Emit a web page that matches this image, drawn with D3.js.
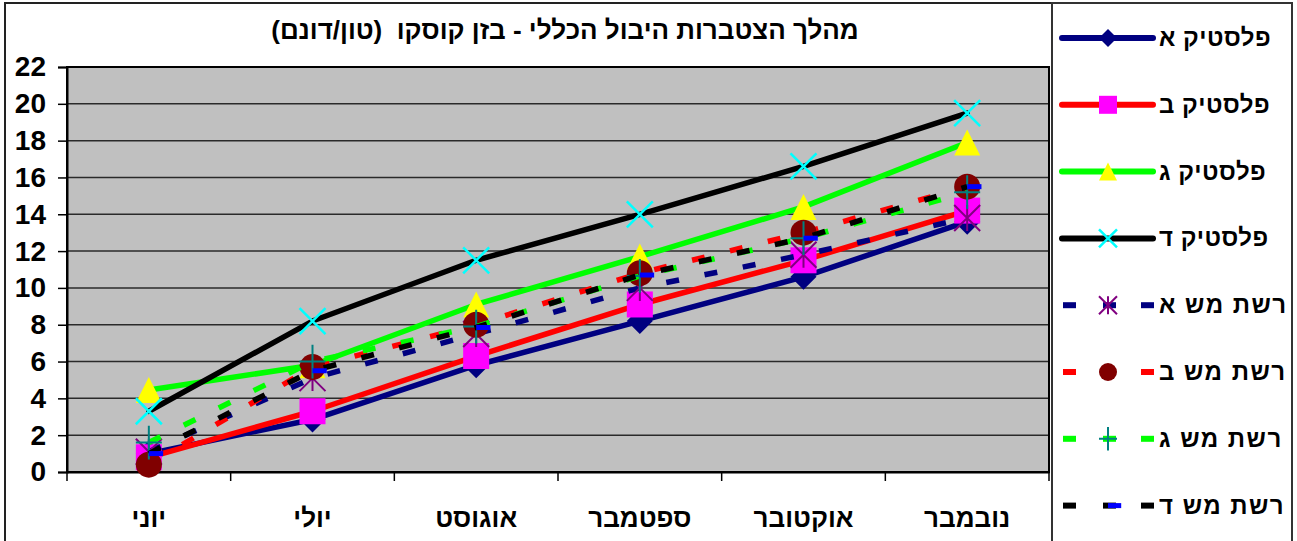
<!DOCTYPE html>
<html>
<head>
<meta charset="utf-8">
<script src="https://cdn.jsdelivr.net/npm/d3@7"></script>
<style>
    body { margin: 0; background: #fff; }
    svg { display: block; font-family: "Liberation Sans", Arial, sans-serif; }
</style>
</head>
<body>
<svg id="chart" width="1297" height="541"></svg>
<script>
// Data
const months = ['יוני', 'יולי', 'אוגוסט', 'ספטמבר', 'אוקטובר', 'נובמבר'];
const yTicks = [0, 2, 4, 6, 8, 10, 12, 14, 16, 18, 20, 22];

const plasticA = [1.0, 2.85, 5.8, 8.2, 10.6, 13.6];
const plasticB = [0.8, 3.3, 6.3, 9.1, 11.5, 14.2];
const plasticG = [4.45, 5.8, 9.1, 11.7, 14.4, 17.9];
const plasticD = [3.3, 8.2, 11.5, 14.0, 16.6, 19.5];
const rashatA = [1.1, 5.1, 7.5, 10.0, 11.8, 13.8];
const rashatB = [0.4, 5.7, 8.0, 10.8, 13.0, 15.5];
const rashatG = [1.6, 6.0, 7.9, 10.65, 12.7, 15.2];
const rashatD = [1.0, 5.5, 7.85, 10.7, 12.7, 15.5];

const series = [
    { name: 'פלסטיק א', values: plasticA, line: '#000080', dashed: false, marker: 'diamond', mColor: '#000080' },
    { name: 'פלסטיק ב', values: plasticB, line: '#ff0000', dashed: false, marker: 'square', mColor: '#ff00ff' },
    { name: 'פלסטיק ג', values: plasticG, line: '#00ff00', dashed: false, marker: 'triangle', mColor: '#ffff00' },
    { name: 'פלסטיק ד', values: plasticD, line: '#000000', dashed: false, marker: 'x', mColor: '#00ffff' },
    { name: 'רשת מש א', values: rashatA, line: '#000080', dashed: true, marker: 'star', mColor: '#800080' },
    { name: 'רשת מש ב', values: rashatB, line: '#ff0000', dashed: true, marker: 'circle', mColor: '#800000' },
    { name: 'רשת מש ג', values: rashatG, line: '#00ff00', dashed: true, marker: 'plus', mColor: '#008080' },
    { name: 'רשת מש ד', values: rashatD, line: '#000000', dashed: true, marker: 'dash', mColor: '#0000ff' }
];

const svg = d3.select('#chart');

// Plot area
const plot = { left: 67, right: 1049, top: 67, bottom: 472 };

const x = d3.scaleBand().domain(months).range([plot.left, plot.right]);
const y = d3.scaleLinear().domain([0, 22]).range([plot.bottom, plot.top]);

// Outer border
svg.append('rect')
    .attr('x', 5).attr('y', 3)
    .attr('width', 1287).attr('height', 560)
    .attr('fill', 'none')
    .attr('stroke', '#222').attr('stroke-width', 2);

// Legend box
svg.append('rect')
    .attr('x', 1052).attr('y', 3)
    .attr('width', 240).attr('height', 560)
    .attr('fill', '#fff')
    .attr('stroke', '#333').attr('stroke-width', 2);

svg.append('rect')
    .attr('x', plot.left).attr('y', plot.top)
    .attr('width', plot.right - plot.left).attr('height', plot.bottom - plot.top)
    .attr('fill', '#c0c0c0');

// Gridlines
svg.append('g')
    .selectAll('line')
    .data(yTicks.filter(d => d > 0))
    .enter().append('line')
    .attr('x1', plot.left).attr('x2', plot.right)
    .attr('y1', d => y(d)).attr('y2', d => y(d))
    .attr('stroke', '#2a2a2a').attr('stroke-width', 1.5);

svg.append('rect')
    .attr('x', plot.left).attr('y', plot.top)
    .attr('width', plot.right - plot.left).attr('height', plot.bottom - plot.top)
    .attr('fill', 'none')
    .attr('stroke', '#000').attr('stroke-width', 2);

// Y axis
const yAxis = svg.append('g')
    .attr('transform', `translate(${plot.left},0)`)
    .call(d3.axisLeft(y).tickValues(yTicks).tickSize(9).tickPadding(12));
yAxis.select('.domain').attr('stroke', '#000').attr('stroke-width', 2);
yAxis.selectAll('.tick line').attr('stroke', '#000').attr('stroke-width', 1.5);
yAxis.selectAll('.tick text')
    .attr('font-family', '"Liberation Sans", Arial, sans-serif')
    .attr('font-size', 28).attr('font-weight', 'bold').attr('fill', '#000');

// X axis: ticks at category boundaries
const xAxis = svg.append('g')
    .attr('transform', `translate(0,${plot.bottom})`)
    .call(d3.axisBottom(x).tickSize(0).tickPadding(37));
xAxis.select('.domain').attr('stroke', '#000').attr('stroke-width', 2);
xAxis.selectAll('.tick text')
    .attr('font-family', '"Liberation Sans", Arial, sans-serif')
    .attr('font-size', 26).attr('font-weight', 'bold').attr('fill', '#000');

svg.append('g')
    .selectAll('line')
    .data(months.map(m => x(m)).concat([plot.right]))
    .enter().append('line')
    .attr('x1', d => d).attr('x2', d => d)
    .attr('y1', plot.bottom).attr('y2', plot.bottom + 9)
    .attr('stroke', '#000').attr('stroke-width', 1.5);

// Title
svg.append('text')
    .attr('x', 565).attr('y', 39)
    .attr('text-anchor', 'middle')
    .attr('direction', 'rtl')
    .style('white-space', 'pre')
    .attr('font-size', 26).attr('font-weight', 'bold')
    .text('מהלך הצטברות היבול הכללי - בזן קוסקו  (טון/דונם)');

// Marker drawing
function drawMarker(g, type, color, s) {
    const h = s / 2;
    if (type === 'diamond') {
        g.append('path').attr('d', `M0,${-h}L${h},0L0,${h}L${-h},0Z`).attr('fill', color);
    } else if (type === 'square') {
        g.append('rect').attr('x', -h).attr('y', -h).attr('width', s).attr('height', s).attr('fill', color);
    } else if (type === 'triangle') {
        g.append('path').attr('d', `M0,${-h}L${h},${h}L${-h},${h}Z`).attr('fill', color);
    } else if (type === 'circle') {
        g.append('circle').attr('r', h).attr('fill', color);
    } else if (type === 'x') {
        g.append('path').attr('d', `M${-h},${-h}L${h},${h}M${-h},${h}L${h},${-h}`)
            .attr('stroke', color).attr('stroke-width', 2.5).attr('fill', 'none');
    } else if (type === 'star') {
        g.append('path').attr('d', `M${-h},${-h}L${h},${h}M${-h},${h}L${h},${-h}M0,${-h}L0,${h}`)
            .attr('stroke', color).attr('stroke-width', 2).attr('fill', 'none');
    } else if (type === 'plus') {
        g.append('path').attr('d', `M0,${-h * 1.3}L0,${h * 1.3}M${-h},0L${h},0`)
            .attr('stroke', color).attr('stroke-width', 2).attr('fill', 'none');
    } else if (type === 'dash') {
        g.append('rect').attr('x', 0).attr('y', -2.5).attr('width', s * 0.55).attr('height', 5).attr('fill', color);
    }
}

const line = d3.line()
    .x((d, i) => x(months[i]) + x.bandwidth() / 2)
    .y(d => y(d));

// Series: line then markers, in order
series.forEach(s => {
    const g = svg.append('g');
    g.append('path')
        .datum(s.values)
        .attr('d', line)
        .attr('fill', 'none')
        .attr('stroke', s.line)
        .attr('stroke-width', 5.5)
        .attr('stroke-dasharray', s.dashed ? '13,26' : null)
        .attr('stroke-linejoin', 'round')
        .attr('stroke-linecap', s.dashed ? 'butt' : 'round');

    g.selectAll('g.marker')
        .data(s.values)
        .enter().append('g')
        .attr('class', 'marker')
        .attr('transform', (d, i) => `translate(${x(months[i]) + x.bandwidth() / 2},${y(d)})`)
        .each(function () { drawMarker(d3.select(this), s.marker, s.mColor, 26); });
});

// Legend
const legendX0 = 1062, legendX1 = 1153, legendMid = 1108;
series.forEach((s, i) => {
    const ly = 38 + i * 66.8;
    const g = svg.append('g');
    if (s.dashed) {
        g.append('rect').attr('x', 1063).attr('y', ly - 3).attr('width', 13).attr('height', 6).attr('fill', s.line);
        g.append('rect').attr('x', 1103).attr('y', ly - 3).attr('width', 13).attr('height', 6).attr('fill', s.line);
        g.append('rect').attr('x', 1141).attr('y', ly - 3).attr('width', 13).attr('height', 6).attr('fill', s.line);
    } else {
        g.append('line')
            .attr('x1', legendX0).attr('x2', legendX1)
            .attr('y1', ly).attr('y2', ly)
            .attr('stroke', s.line).attr('stroke-width', 6)
            .attr('stroke-linecap', 'round');
    }
    const m = g.append('g').attr('transform', `translate(${legendMid},${ly})`);
    drawMarker(m, s.marker, s.mColor, s.marker === 'dash' ? 24 : 18);

    g.append('text')
        .attr('x', 1159).attr('y', ly + 8)
        .attr('text-anchor', 'start')
        .attr('font-size', 24).attr('font-weight', 'bold')
        .attr('letter-spacing', s.dashed ? 1.5 : 0.5)
        .text(s.name);
});
</script>
</body>
</html>
